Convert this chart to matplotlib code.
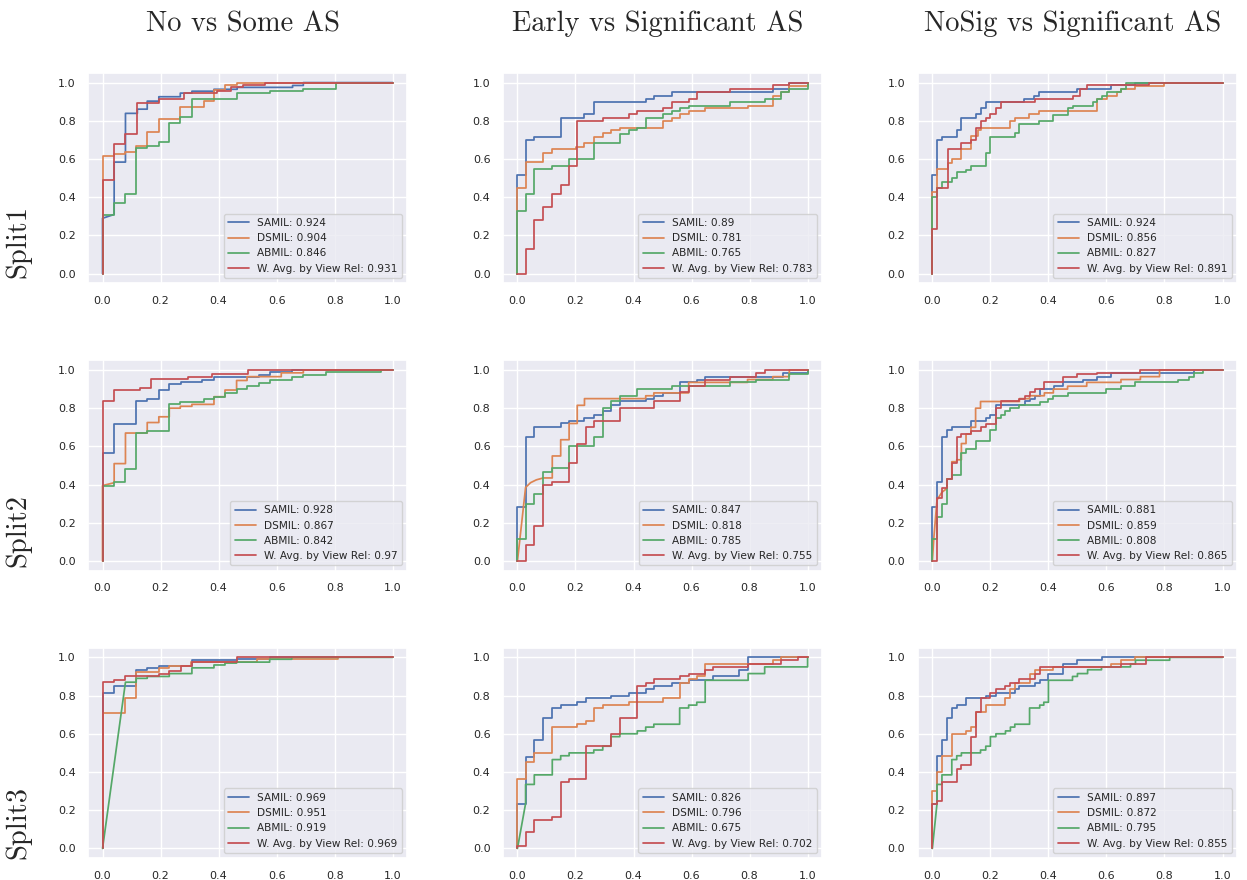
import numpy as np
import matplotlib
matplotlib.use('Agg')
import matplotlib.pyplot as plt
import seaborn as sns

# --- labels ---------------------

tasks = ['No vs Some AS', 'Early vs Significant AS', 'NoSig vs Significant AS']
splits = ['Split1', 'Split2', 'Split3']
models = ['SAMIL', 'DSMIL', 'ABMIL', 'W. Avg. by View Rel']

# auc per split, rows = task, cols = model
auc_split1 = [[0.924, 0.904, 0.846, 0.931],
              [0.89, 0.781, 0.765, 0.783],
              [0.924, 0.856, 0.827, 0.891]]
auc_split2 = [[0.928, 0.867, 0.842, 0.97],
              [0.847, 0.818, 0.785, 0.755],
              [0.881, 0.859, 0.808, 0.865]]
auc_split3 = [[0.969, 0.951, 0.919, 0.969],
              [0.826, 0.796, 0.675, 0.702],
              [0.897, 0.872, 0.795, 0.855]]

# --- roc vertices (fpr, tpr) -----------------------------------------

roc_nosome_1 = [
	[(0,0),(0,.29),(.04,.31),(.04,.584),(.079,.584),(.079,.839),(.12,.839),(.12,.861),(.154,.861),(.154,.903),(.194,.903),(.194,.926),(.268,.926),(.268,.945),(.308,.945),(.308,.955),(.384,.955),(.384,.965),(.464,.965),(.464,.975),(.655,.975),(.655,.985),(.692,.985),(.692,1),(1,1)],
	[(0,0),(0,.616),(.04,.616),(.04,.625),(.079,.625),(.079,.635),(.116,.635),(.116,.67),(.154,.67),(.154,.744),(.194,.744),(.194,.809),(.268,.809),(.268,.872),(.348,.872),(.348,.905),(.384,.905),(.384,.961),(.422,.961),(.422,.99),(.462,.99),(.462,1),(1,1)],
	[(0,0),(0,.309),(.04,.309),(.04,.372),(.079,.372),(.079,.415),(.116,.415),(.116,.66),(.154,.66),(.154,.67),(.194,.67),(.194,.69),(.23,.69),(.23,.786),(.268,.786),(.268,.82),(.308,.82),(.308,.916),(.462,.916),(.462,.945),(.576,.945),(.576,.955),(.692,.955),(.692,.965),(.806,.965),(.806,1),(1,1)],
	[(0,0),(0,.488),(.04,.488),(.04,.679),(.079,.679),(.079,.733),(.12,.733),(.12,.893),(.194,.893),(.194,.915),(.282,.915),(.282,.945),(.396,.945),(.396,.955),(.441,.955),(.441,.975),(.485,.975),(.485,.99),(.561,.99),(.561,1),(1,1)]]

roc_earlysig_1 = [
	[(0,0),(0,.518),(.028,.518),(.028,.70),(.058,.70),(.058,.715),(.149,.715),(.149,.816),(.231,.816),(.231,.835),(.263,.835),(.263,.90),(.442,.90),(.442,.915),(.47,.915),(.47,.93),(.531,.93),(.531,.95),(.88,.95),(.88,.965),(.937,.965),(.937,1),(1,1)],
	[(0,0),(0,.449),(.028,.449),(.028,.582),(.089,.582),(.089,.63),(.12,.63),(.12,.65),(.203,.65),(.203,.665),(.231,.665),(.231,.685),(.263,.685),(.263,.715),(.294,.715),(.294,.735),(.322,.735),(.322,.75),(.353,.75),(.353,.765),(.502,.765),(.502,.80),(.531,.80),(.531,.815),(.559,.815),(.559,.835),(.59,.835),(.59,.85),(.647,.85),(.647,.865),(.793,.865),(.793,.88),(.88,.88),(.88,.93),(.909,.93),(.909,.95),(.937,.95),(.937,.98),(1,.98),(1,1)],
	[(0,0),(0,.33),(.028,.33),(.028,.415),(.058,.415),(.058,.549),(.12,.549),(.12,.565),(.178,.565),(.178,.60),(.263,.60),(.263,.685),(.353,.685),(.353,.73),(.383,.73),(.383,.75),(.413,.75),(.413,.765),(.442,.765),(.442,.815),(.502,.815),(.502,.835),(.531,.835),(.531,.85),(.559,.85),(.559,.865),(.59,.865),(.59,.88),(.732,.88),(.732,.90),(.852,.90),(.852,.915),(.909,.915),(.909,.95),(.937,.95),(.937,.965),(1,.965),(1,1)],
	[(0,0),(.028,0),(.028,.13),(.058,.13),(.058,.28),(.089,.28),(.089,.35),(.12,.35),(.12,.415),(.149,.415),(.149,.465),(.178,.465),(.178,.565),(.206,.565),(.206,.80),(.294,.80),(.294,.815),(.383,.815),(.383,.835),(.413,.835),(.413,.85),(.502,.85),(.502,.865),(.531,.865),(.531,.90),(.59,.90),(.59,.915),(.618,.915),(.618,.95),(.732,.95),(.732,.965),(.88,.965),(.88,.985),(.937,.985),(.937,1),(1,1)]]

roc_nosigsig_1 = [
	[(0,0),(0,.515),(.016,.515),(.016,.70),(.033,.70),(.033,.715),(.084,.715),(.084,.75),(.10,.75),(.10,.815),(.149,.815),(.149,.835),(.166,.835),(.166,.865),(.184,.865),(.184,.90),(.316,.90),(.316,.915),(.35,.915),(.35,.93),(.367,.93),(.367,.95),(.50,.95),(.50,.965),(.617,.965),(.617,.985),(.70,.985),(.70,1),(1,1)],
	[(0,0),(0,.43),(.016,.43),(.016,.547),(.054,.547),(.054,.58),(.067,.58),(.067,.60),(.10,.60),(.10,.65),(.133,.65),(.133,.72),(.158,.72),(.158,.75),(.168,.75),(.168,.765),(.267,.765),(.267,.80),(.284,.80),(.284,.815),(.333,.815),(.333,.835),(.367,.835),(.367,.85),(.567,.85),(.567,.915),(.603,.915),(.603,.93),(.635,.93),(.635,.95),(.65,.95),(.65,.965),(.70,.965),(.70,.98),(.80,.98),(.80,1),(1,1)],
	[(0,0),(0,.40),(.016,.40),(.016,.45),(.033,.45),(.033,.48),(.067,.48),(.067,.50),(.084,.50),(.084,.53),(.116,.53),(.116,.545),(.133,.545),(.133,.565),(.184,.565),(.184,.63),(.20,.63),(.20,.715),(.284,.715),(.284,.735),(.30,.735),(.30,.785),(.367,.785),(.367,.80),(.417,.80),(.417,.83),(.466,.83),(.466,.865),(.483,.865),(.483,.88),(.552,.88),(.552,.90),(.569,.90),(.569,.915),(.586,.915),(.586,.93),(.603,.93),(.603,.95),(.65,.95),(.65,.965),(.666,.965),(.666,1),(1,1)],
	[(0,0),(0,.235),(.016,.235),(.016,.45),(.054,.45),(.054,.65),(.10,.65),(.10,.685),(.133,.685),(.133,.70),(.149,.70),(.149,.765),(.166,.765),(.166,.80),(.184,.80),(.184,.815),(.20,.815),(.20,.835),(.219,.835),(.219,.865),(.238,.865),(.238,.90),(.352,.90),(.352,.915),(.483,.915),(.483,.93),(.51,.93),(.51,.965),(.532,.965),(.532,.985),(.745,.985),(.745,1),(1,1)]]

roc_nosome_2 = [
	[(0,0),(0,.565),(.04,.565),(.04,.715),(.116,.715),(.116,.84),(.154,.84),(.154,.85),(.194,.85),(.194,.895),(.23,.895),(.23,.925),(.27,.925),(.27,.935),(.344,.935),(.344,.945),(.384,.945),(.384,.965),(.538,.965),(.538,.975),(.578,.975),(.578,.99),(.652,.99),(.652,1),(1,1)],
	[(0,0),(0,.395),(.04,.41),(.04,.51),(.079,.51),(.079,.67),(.154,.67),(.154,.725),(.194,.725),(.194,.755),(.23,.755),(.23,.80),(.268,.80),(.268,.81),(.308,.81),(.308,.82),(.384,.82),(.384,.86),(.422,.86),(.422,.895),(.462,.895),(.462,.945),(.498,.945),(.498,.965),(.616,.965),(.616,.985),(.692,.985),(.692,1),(1,1)],
	[(0,0),(0,.395),(.04,.395),(.04,.415),(.079,.415),(.079,.48),(.116,.48),(.116,.67),(.154,.67),(.154,.68),(.23,.68),(.23,.82),(.268,.82),(.268,.83),(.348,.83),(.348,.85),(.384,.85),(.384,.86),(.422,.86),(.422,.88),(.462,.88),(.462,.90),(.498,.90),(.498,.915),(.538,.915),(.538,.93),(.578,.93),(.578,.945),(.652,.945),(.652,.965),(.692,.965),(.692,.975),(.77,.975),(.77,.99),(.96,.99),(.96,1),(1,1)],
	[(0,0),(0,.84),(.04,.84),(.04,.895),(.128,.895),(.128,.905),(.168,.905),(.168,.955),(.293,.955),(.293,.965),(.378,.965),(.378,.98),(.502,.98),(.502,1),(1,1)]]

roc_earlysig_2 = [
	[(0,0),(0,.285),(.028,.285),(.028,.65),(.058,.65),(.058,.70),(.149,.70),(.149,.72),(.178,.72),(.178,.735),(.231,.735),(.231,.75),(.263,.75),(.263,.765),(.294,.765),(.294,.785),(.322,.785),(.322,.815),(.353,.815),(.353,.835),(.442,.835),(.442,.85),(.47,.85),(.47,.865),(.502,.865),(.502,.88),(.559,.88),(.559,.935),(.618,.935),(.618,.95),(.647,.95),(.647,.965),(.915,.965),(.915,.985),(1,.985),(1,1)],
	[(0,0),(.028,.385),(.045,.41),(.065,.425),(.089,.435),(.12,.435),(.12,.55),(.149,.55),(.149,.635),(.178,.635),(.178,.72),(.206,.72),(.206,.815),(.231,.815),(.231,.85),(.442,.85),(.442,.865),(.47,.865),(.47,.88),(.59,.88),(.59,.935),(.793,.935),(.793,.95),(.88,.95),(.88,.965),(.937,.965),(.937,1),(1,1)],
	[(0,0),(0,.115),(.028,.115),(.028,.30),(.058,.30),(.058,.35),(.089,.35),(.089,.465),(.12,.465),(.12,.485),(.178,.485),(.178,.60),(.263,.60),(.263,.65),(.294,.65),(.294,.80),(.322,.80),(.322,.835),(.353,.835),(.353,.865),(.413,.865),(.413,.90),(.531,.90),(.531,.915),(.732,.915),(.732,.935),(.823,.935),(.823,.95),(.937,.95),(.937,.98),(1,.98),(1,1)],
	[(0,0),(.028,0),(.028,.085),(.058,.085),(.058,.185),(.089,.185),(.089,.40),(.12,.40),(.12,.415),(.178,.415),(.178,.515),(.206,.515),(.206,.615),(.235,.615),(.235,.70),(.263,.70),(.263,.735),(.353,.735),(.353,.80),(.47,.80),(.47,.835),(.559,.835),(.559,.885),(.59,.885),(.59,.915),(.647,.915),(.647,.95),(.732,.95),(.732,.965),(.823,.965),(.823,.985),(.852,.985),(.852,1),(1,1)]]

roc_nosigsig_2 = [
	[(0,0),(0,.285),(.016,.285),(.016,.415),(.033,.415),(.033,.65),(.05,.65),(.05,.685),(.067,.685),(.067,.70),(.133,.70),(.133,.735),(.184,.735),(.184,.75),(.20,.75),(.20,.765),(.219,.765),(.219,.815),(.318,.815),(.318,.835),(.335,.835),(.335,.85),(.352,.85),(.352,.865),(.37,.865),(.37,.90),(.418,.90),(.418,.915),(.451,.915),(.451,.935),(.518,.935),(.518,.95),(.569,.95),(.569,.965),(.615,.965),(.615,.985),(.90,.985),(.90,1),(1,1)],
	[(0,0),(.005,.12),(.016,.32),(.033,.36),(.05,.38),(.05,.43),(.067,.43),(.067,.52),(.084,.52),(.084,.53),(.10,.53),(.10,.615),(.116,.615),(.116,.665),(.133,.665),(.133,.70),(.149,.70),(.149,.80),(.166,.80),(.166,.835),(.30,.835),(.30,.85),(.335,.85),(.335,.865),(.386,.865),(.386,.88),(.417,.88),(.417,.90),(.466,.90),(.466,.915),(.532,.915),(.532,.935),(.65,.935),(.65,.95),(.717,.95),(.717,.965),(.783,.965),(.783,1),(1,1)],
	[(0,0),(0,.115),(.016,.115),(.016,.23),(.033,.23),(.033,.30),(.05,.30),(.05,.43),(.067,.43),(.067,.45),(.10,.45),(.10,.565),(.116,.565),(.116,.585),(.149,.585),(.149,.63),(.20,.63),(.20,.685),(.219,.685),(.219,.75),(.238,.75),(.238,.765),(.252,.765),(.252,.785),(.269,.785),(.269,.80),(.30,.80),(.30,.815),(.37,.815),(.37,.83),(.40,.83),(.40,.85),(.417,.85),(.417,.865),(.466,.865),(.466,.88),(.60,.88),(.60,.90),(.65,.90),(.65,.915),(.70,.915),(.70,.935),(.848,.935),(.848,.95),(.883,.95),(.883,.965),(.90,.965),(.90,.985),(.934,.985),(.934,1),(1,1)],
	[(0,0),(.016,0),(.016,.33),(.033,.33),(.033,.38),(.05,.38),(.05,.43),(.067,.43),(.067,.515),(.084,.515),(.084,.65),(.10,.65),(.10,.665),(.133,.665),(.133,.68),(.166,.68),(.166,.70),(.184,.70),(.184,.715),(.219,.715),(.219,.80),(.238,.80),(.238,.835),(.30,.835),(.30,.85),(.318,.85),(.318,.865),(.335,.865),(.335,.885),(.352,.885),(.352,.90),(.384,.90),(.384,.935),(.451,.935),(.451,.965),(.498,.965),(.498,.98),(.569,.98),(.569,.985),(.717,.985),(.717,1),(1,1)]]

roc_nosome_3 = [
	[(0,0),(0,.815),(.04,.815),(.04,.85),(.116,.85),(.116,.935),(.154,.935),(.154,.945),(.194,.945),(.194,.955),(.308,.955),(.308,.985),(.462,.985),(.462,.99),(.576,.99),(.576,1),(1,1)],
	[(0,0),(0,.71),(.079,.71),(.079,.785),(.116,.785),(.116,.925),(.194,.925),(.194,.945),(.23,.945),(.23,.955),(.305,.955),(.305,.975),(.532,.975),(.532,.99),(.81,.99),(.81,1),(1,1)],
	[(0,0),(.079,.87),(.116,.87),(.116,.89),(.154,.89),(.154,.90),(.23,.90),(.23,.915),(.308,.915),(.308,.945),(.384,.945),(.384,.96),(.422,.96),(.422,.97),(.462,.97),(.462,.975),(.576,.975),(.576,.99),(.652,.99),(.652,1),(1,1)],
	[(0,0),(0,.87),(.04,.87),(.04,.88),(.079,.88),(.079,.90),(.194,.90),(.194,.915),(.23,.915),(.23,.93),(.27,.93),(.27,.955),(.308,.955),(.308,.975),(.462,.975),(.462,1),(1,1)]]

roc_earlysig_3 = [
	[(0,0),(0,.235),(.028,.235),(.028,.48),(.058,.48),(.058,.565),(.089,.565),(.089,.685),(.12,.685),(.12,.735),(.149,.735),(.149,.75),(.206,.75),(.206,.765),(.235,.765),(.235,.785),(.322,.785),(.322,.80),(.383,.80),(.383,.815),(.442,.815),(.442,.835),(.47,.835),(.47,.85),(.531,.85),(.531,.865),(.59,.865),(.59,.88),(.675,.88),(.675,.90),(.764,.90),(.764,.935),(.795,.935),(.795,1),(1,1)],
	[(0,0),(0,.365),(.028,.365),(.028,.45),(.058,.45),(.058,.50),(.12,.50),(.12,.635),(.206,.635),(.206,.65),(.235,.65),(.235,.665),(.263,.665),(.263,.735),(.294,.735),(.294,.75),(.383,.75),(.383,.765),(.502,.765),(.502,.785),(.559,.785),(.559,.865),(.59,.865),(.59,.885),(.618,.885),(.618,.90),(.647,.90),(.647,.965),(.88,.965),(.88,.985),(.909,.985),(.909,1),(1,1)],
	[(0,0),(.028,.235),(.028,.335),(.058,.335),(.058,.385),(.12,.385),(.12,.465),(.149,.465),(.149,.485),(.178,.485),(.178,.50),(.263,.50),(.263,.515),(.294,.515),(.294,.535),(.322,.535),(.322,.585),(.353,.585),(.353,.60),(.413,.60),(.413,.615),(.442,.615),(.442,.635),(.47,.635),(.47,.65),(.559,.65),(.559,.735),(.59,.735),(.59,.75),(.618,.75),(.618,.765),(.647,.765),(.647,.88),(.795,.88),(.795,.915),(.852,.915),(.852,.95),(1,.95),(1,1)],
	[(0,0),(0,.015),(.028,.015),(.028,.085),(.058,.085),(.058,.15),(.12,.15),(.12,.165),(.149,.165),(.149,.35),(.178,.35),(.178,.365),(.235,.365),(.235,.535),(.322,.535),(.322,.60),(.353,.60),(.353,.685),(.413,.685),(.413,.85),(.442,.85),(.442,.865),(.47,.865),(.47,.885),(.559,.885),(.559,.90),(.59,.90),(.59,.915),(.647,.915),(.647,.935),(.675,.935),(.675,.95),(.795,.95),(.795,.965),(.909,.965),(.909,.985),(.966,.985),(.966,1),(1,1)]]

roc_nosigsig_3 = [
	[(0,0),(0,.235),(.016,.235),(.016,.485),(.033,.485),(.033,.565),(.05,.565),(.05,.685),(.067,.685),(.067,.735),(.084,.735),(.084,.75),(.116,.75),(.116,.785),(.184,.785),(.184,.80),(.219,.80),(.219,.815),(.284,.815),(.284,.835),(.30,.835),(.30,.85),(.352,.85),(.352,.865),(.37,.865),(.37,.88),(.40,.88),(.40,.915),(.451,.915),(.451,.965),(.50,.965),(.50,.985),(.583,.985),(.583,1),(1,1)],
	[(0,0),(0,.30),(.016,.30),(.016,.40),(.033,.40),(.033,.485),(.067,.485),(.067,.60),(.116,.60),(.116,.615),(.133,.615),(.133,.635),(.149,.635),(.149,.715),(.184,.715),(.184,.75),(.252,.75),(.252,.785),(.269,.785),(.269,.835),(.284,.835),(.284,.865),(.335,.865),(.335,.915),(.352,.915),(.352,.935),(.417,.935),(.417,.95),(.617,.95),(.617,.965),(.65,.965),(.65,.985),(.70,.985),(.70,1),(1,1)],
	[(0,0),(.016,.235),(.016,.335),(.033,.335),(.033,.385),(.067,.385),(.067,.465),(.084,.465),(.084,.485),(.10,.485),(.10,.50),(.166,.50),(.166,.515),(.184,.515),(.184,.535),(.20,.535),(.20,.585),(.219,.585),(.219,.60),(.252,.60),(.252,.615),(.269,.615),(.269,.635),(.284,.635),(.284,.65),(.335,.65),(.335,.735),(.37,.735),(.37,.75),(.384,.75),(.384,.765),(.40,.765),(.40,.88),(.483,.88),(.483,.90),(.50,.90),(.50,.915),(.535,.915),(.535,.935),(.583,.935),(.583,.95),(.683,.95),(.683,.965),(.70,.965),(.70,.985),(.818,.985),(.818,1),(1,1)],
	[(0,0),(0,.235),(.016,.235),(.016,.25),(.033,.25),(.033,.35),(.084,.35),(.084,.415),(.10,.415),(.10,.435),(.133,.435),(.133,.585),(.149,.585),(.149,.715),(.166,.715),(.166,.785),(.20,.785),(.20,.815),(.219,.815),(.219,.835),(.252,.835),(.252,.85),(.269,.85),(.269,.865),(.30,.865),(.30,.885),(.352,.885),(.352,.915),(.37,.915),(.37,.95),(.65,.95),(.65,.965),(.735,.965),(.735,1),(1,1)]]

# --- plotting ---------------------

sns.set_theme(style='darkgrid')
colors = sns.color_palette('deep')[:4]

rocs = [[roc_nosome_1, roc_earlysig_1, roc_nosigsig_1],
	[roc_nosome_2, roc_earlysig_2, roc_nosigsig_2],
	[roc_nosome_3, roc_earlysig_3, roc_nosigsig_3]]
aucs = [auc_split1, auc_split2, auc_split3]

fig, axes = plt.subplots(3, 3, figsize = (12.47, 8.8), dpi = 100)
fig.subplots_adjust(left = 0.0706, right = 0.992, top = 0.917, bottom = 0.025,
	wspace = 0.30, hspace = 0.367)

for r in range(3):
	for c in range(3):
		ax = axes[r][c]
		for m in range(4):
			pts = np.array(rocs[r][c][m])
			ax.plot(pts[:, 0], pts[:, 1], lw = 1.25, color = colors[m],
				label = '{}: {}'.format(models[m], aucs[r][c][m]))
		ax.set_xticks(np.arange(0, 1.01, 0.2))
		ax.set_yticks(np.arange(0, 1.01, 0.2))
		ax.tick_params(labelsize = 8, pad = 3)
		ax.legend(loc = 'lower right', fontsize = 7.6)

for c in range(3):
	pos = axes[0][c].get_position()
	fig.text((pos.x0 + pos.x1)/2 - 0.004, 1 - 31/880, tasks[c],
		family = 'cmr10', fontsize = 20.5, ha = 'center', va = 'baseline')

row_y = [242, 530, 822]
for r in range(3):
	fig.text(18/1247, 1 - row_y[r]/880, splits[r], family = 'cmr10',
		fontsize = 20.5, rotation = 90, ha = 'center', va = 'center')

fig.savefig('out.png', dpi = 100)
plt.close()
